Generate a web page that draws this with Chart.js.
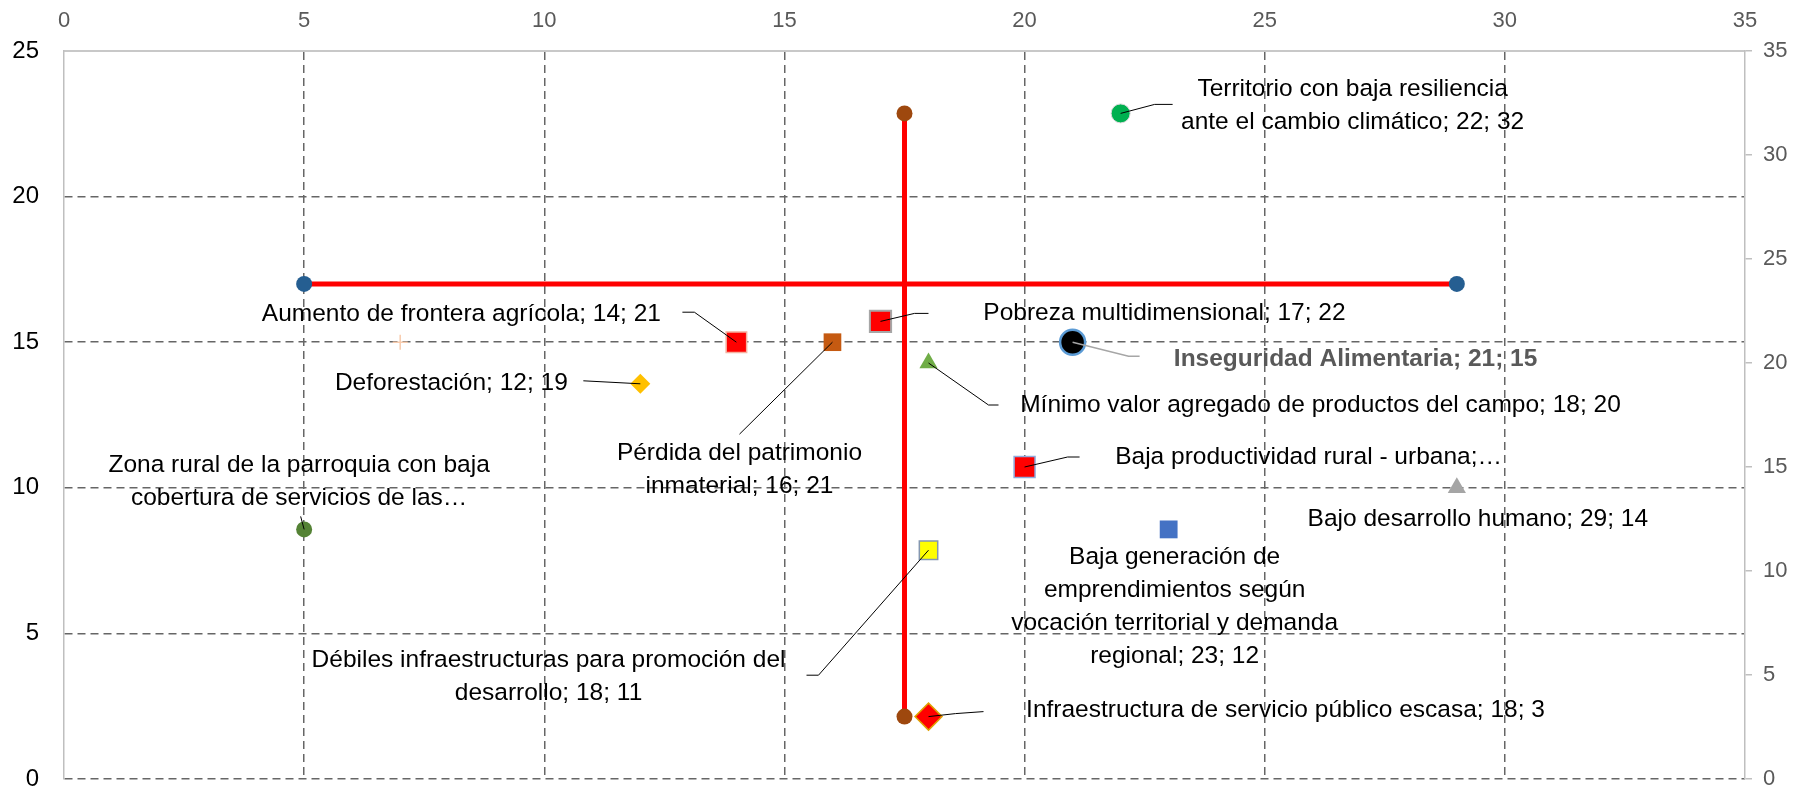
<!DOCTYPE html>
<html lang="es">
<head>
  <meta charset="UTF-8">
  <title>Matriz de problemas</title>
  <script src="https://cdn.jsdelivr.net/npm/chart.js"></script>
  <style>
    body { margin: 0; background: #fff; }
    canvas { display: block; }
  </style>
</head>
<body>
  <canvas id="grafico" width="1814" height="791"></canvas>

  <script>
    // Datos de la matriz (x en 0-35, y en eje derecho 0-35 salvo Inseguridad que va en el eje izquierdo 0-25)
    const problemas = [
      "Aumento de frontera agrícola",
      "Pobreza multidimensional",
      "Pérdida del patrimonio inmaterial",
      "Deforestación",
      "Mínimo valor agregado de productos del campo",
      "Inseguridad Alimentaria",
      "Baja productividad rural - urbana",
      "Bajo desarrollo humano",
      "Baja generación de emprendimientos según vocación territorial y demanda regional",
      "Débiles infraestructuras para promoción del desarrollo",
      "Infraestructura de servicio público escasa",
      "Zona rural de la parroquia con baja cobertura de servicios de las...",
      "Territorio con baja resiliencia ante el cambio climático",
      "Serie sin etiqueta"
    ];
    const valoresX = [14, 17, 16, 12, 18, 21, 20, 29, 23, 18, 18, 5, 22, 7];
    const valoresY = [21, 22, 21, 19, 20, 15, 15, 14, 12, 11, 3, 12, 32, 21];
    const ejesY = ['y2', 'y2', 'y2', 'y2', 'y2', 'y', 'y2', 'y2', 'y2', 'y2', 'y2', 'y2', 'y2', 'y2'];

    // textos de las etiquetas tal como aparecen
    const textos = [
      ["Aumento de frontera agrícola; 14; 21"],
      ["Pobreza multidimensional; 17; 22"],
      ["Pérdida del patrimonio", "inmaterial; 16; 21"],
      ["Deforestación; 12; 19"],
      ["Mínimo valor agregado de productos del campo; 18; 20"],
      ["Inseguridad Alimentaria; 21; 15"],
      ["Baja productividad rural - urbana;…"],
      ["Bajo desarrollo humano; 29; 14"],
      ["Baja generación de", "emprendimientos según", "vocación territorial y demanda", "regional; 23; 12"],
      ["Débiles infraestructuras para promoción del", "desarrollo; 18; 11"],
      ["Infraestructura de servicio público escasa; 18; 3"],
      ["Zona rural de la parroquia con baja", "cobertura de servicios de las…"],
      ["Territorio con baja resiliencia", "ante el cambio climático; 22; 32"],
      []
    ];

    // cuadrantes: línea horizontal (eje izquierdo) y vertical (eje derecho)
    const lineaHX = [5, 29];
    const lineaHY = [17, 17];
    const lineaVX = [17.5, 17.5];
    const lineaVY = [3, 32];

    const ejeXTicks = [0, 5, 10, 15, 20, 25, 30, 35];

    // estilos de los marcadores
    const estilos = [
      { s: 'rect', r: 14.5, bg: '#FF0000', bc: '#F4B1A0', bw: 1.5 },
      { s: 'rect', r: 15, bg: '#FF0000', bc: '#A6A6A6', bw: 2 },
      { s: 'rect', r: 12.5, bg: '#C55A11', bc: '#C55A11', bw: 0 },
      { s: 'rectRot', r: 10, bg: '#FFC000', bc: '#FFC000', bw: 0 },
      { s: 'triangle', r: 10.5, bg: '#70AD47', bc: '#70AD47', bw: 0 },
      { s: 'circle', r: 12.5, bg: '#000000', bc: '#5B9BD5', bw: 2.5 },
      { s: 'rect', r: 14.8, bg: '#FF0000', bc: '#8FAADC', bw: 1.5 },
      { s: 'triangle', r: 10.5, bg: '#A5A5A5', bc: '#A5A5A5', bw: 0 },
      { s: 'rect', r: 12.6, bg: '#4472C4', bc: '#4472C4', bw: 0 },
      { s: 'rect', r: 13, bg: '#FFFF00', bc: '#8497B0', bw: 1.5 },
      { s: 'rectRot', r: 13.5, bg: '#FF0000', bc: '#E0A000', bw: 1.5 },
      { s: 'circle', r: 8, bg: '#548235', bc: '#548235', bw: 0 },
      { s: 'circle', r: 9.5, bg: '#00B050', bc: '#D9D9D9', bw: 1 },
      { s: 'cross', r: 7.5, bg: '#F8CBAD', bc: '#F8CBAD', bw: 1.5 }
    ];

    // posición de cada etiqueta (px respecto al marcador) y su línea guía
    const rotulos = [
      { dx: -275, dy: -28, guia: [[-54, -30], [-42, -30], [0, 0]] },
      { dx: 284, dy: -8, guia: [[0, 0], [34, -8], [48, -8]] },
      { dx: -93, dy: 111, guia: [[0, 0], [-93, 92]] },
      { dx: -189, dy: -1, guia: [[-57, -3], [0, 0]] },
      { dx: 392, dy: 42, guia: [[0, 0], [60, 42], [70, 42]] },
      { dx: 283, dy: 17, guia: [[0, 0], [56, 14], [67, 14]], negrita: true, color: '#595959', colorGuia: '#A6A6A6' },
      { dx: 284, dy: -10, guia: [[0, 0], [43, -10], [55, -10]] },
      { dx: 21, dy: 31, guia: null },
      { dx: 6, dy: 28, guia: null },
      { dx: -380, dy: 110, guia: [[0, 0], [-110, 125], [-122, 125]] },
      { dx: 357, dy: -6, guia: [[0, 0], [27, -3], [55, -5]] },
      { dx: -5, dy: -64, guia: [[0, 0], [-3.5, -13]] },
      { dx: 232, dy: -24, guia: [[0, 0], [34, -9], [52, -9]] },
      { dx: 0, dy: 0, guia: null }
    ];

    const fuente = '"Liberation Sans", Arial, sans-serif';

    const datasets = problemas.map((p, i) => ({
      label: p,
      data: [{ x: valoresX[i], y: valoresY[i] }],
      xAxisID: 'x',
      yAxisID: ejesY[i],
      pointStyle: estilos[i].s,
      pointRadius: estilos[i].r,
      backgroundColor: estilos[i].bg,
      borderColor: estilos[i].bc,
      borderWidth: estilos[i].bw,
      showLine: false,
      order: 1
    }));

    datasets.push({
      label: 'Horizontal',
      data: lineaHX.map((x, i) => ({ x: x, y: lineaHY[i] })),
      xAxisID: 'x', yAxisID: 'y',
      showLine: true,
      borderColor: '#FF0000', borderWidth: 5,
      pointRadius: 8, pointBackgroundColor: '#255E91', pointBorderWidth: 0,
      order: 5
    });
    datasets.push({
      label: 'Vertical',
      data: lineaVX.map((x, i) => ({ x: x, y: lineaVY[i] })),
      xAxisID: 'x', yAxisID: 'y2',
      showLine: true,
      borderColor: '#FF0000', borderWidth: 5,
      pointRadius: 8, pointBackgroundColor: '#9E480E', pointBorderWidth: 0,
      order: 5
    });

    const etiquetasPlugin = {
      id: 'etiquetas',
      afterDatasetsDraw(chart) {
        const ctx = chart.ctx;
        ctx.save();
        textos.forEach((lineas, i) => {
          const pt = chart.getDatasetMeta(i).data[0];
          const rot = rotulos[i];
          if (rot.guia) {
            ctx.beginPath();
            ctx.strokeStyle = rot.colorGuia || '#000000';
            ctx.lineWidth = rot.colorGuia ? 1.5 : 1;
            rot.guia.forEach((g, k) => {
              if (k === 0) ctx.moveTo(pt.x + g[0], pt.y + g[1]);
              else ctx.lineTo(pt.x + g[0], pt.y + g[1]);
            });
            ctx.stroke();
          }
          ctx.font = (rot.negrita ? 'bold ' : '') + '24.5px ' + fuente;
          ctx.fillStyle = rot.color || '#000000';
          ctx.textAlign = 'center';
          ctx.textBaseline = 'middle';
          lineas.forEach((t, k) => {
            ctx.fillText(t, pt.x + rot.dx, pt.y + rot.dy + k * 33);
          });
        });
        ctx.restore();
      }
    };

    const rejilla = '#666666';

    new Chart(document.getElementById('grafico'), {
      type: 'scatter',
      data: { datasets: datasets },
      plugins: [etiquetasPlugin],
      options: {
        responsive: false,
        animation: false,
        events: [],
        layout: { padding: 0, autoPadding: false },
        plugins: { legend: { display: false }, tooltip: { enabled: false } },
        scales: {
          x: {
            type: 'linear', position: 'bottom', min: 0, max: 35,
            ticks: { display: false },
            grid: { display: false },
            border: { display: false },
            afterFit(s) { s.height = 12; s.paddingLeft = 0; s.paddingRight = 0; }
          },
          x2: {
            type: 'linear', position: 'top', min: 0, max: 35,
            afterBuildTicks(s) { s.ticks = ejeXTicks.map(v => ({ value: v })); },
            ticks: { color: '#595959', font: { family: fuente, size: 22 }, padding: 17 },
            grid: {
              drawTicks: false, lineWidth: 1.5,
              color: c => (c.tick && (c.tick.value === 0 || c.tick.value === 35)) ? 'rgba(0,0,0,0)' : rejilla
            },
            border: { display: true, color: '#C8C8C8', width: 2, dash: [8, 5] },
            afterFit(s) { s.height = 51; s.paddingLeft = 0; s.paddingRight = 0; }
          },
          y: {
            type: 'linear', position: 'left', min: 0, max: 25,
            ticks: { stepSize: 5, color: '#000000', font: { family: fuente, size: 24 }, padding: 25 },
            grid: {
              drawTicks: false, lineWidth: 1.5,
              color: c => (c.tick && c.tick.value === 25) ? 'rgba(0,0,0,0)' : rejilla
            },
            border: { display: true, color: '#BFBFBF', width: 1.5, dash: [8, 5] },
            afterFit(s) { s.width = 64; s.paddingTop = 0; s.paddingBottom = 0; }
          },
          y2: {
            type: 'linear', position: 'right', min: 0, max: 35,
            ticks: { stepSize: 5, color: '#595959', font: { family: fuente, size: 22 }, padding: 11 },
            grid: { drawOnChartArea: false, drawTicks: true, tickLength: 7, color: '#BFBFBF', lineWidth: 1.5 },
            border: { display: true, color: '#BFBFBF', width: 1.5 },
            afterFit(s) { s.width = 69; s.paddingTop = 0; s.paddingBottom = 0; }
          }
        }
      }
    });
  </script>
</body>
</html>
